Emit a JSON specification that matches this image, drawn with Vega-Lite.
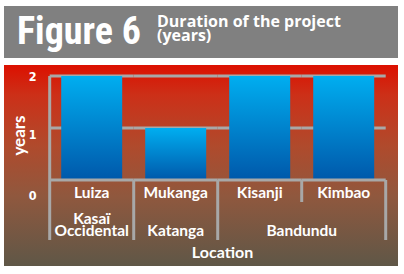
{
  "$schema": "https://vega.github.io/schema/vega-lite/v6.json",
  "padding": {"left": 4, "top": 6, "right": 6, "bottom": 8},
  "background": "white",
  "spacing": 7,
  "config": {"view": {"stroke": null}, "font": "Lato"},
  "vconcat": [
    {
      "width": 394,
      "height": 52,
      "view": {"fill": "#808080", "stroke": null},
      "layer": [
        {
          "data": {"values": [{"part": "Figure 6", "label": "Figure 6"}]},
          "mark": {"type": "text", "font": "Noto Sans ExtraCondensed, Noto Sans Condensed, Roboto Condensed, DejaVu Sans Condensed, sans-serif", "fontWeight": "bold", "fontSize": 38, "color": "white", "align": "left", "baseline": "middle", "dy": 1},
          "encoding": {
            "x": {"field": "part", "type": "nominal", "bandPosition": 0, "axis": null,
                  "scale": {"type": "band", "domain": ["Figure 6", "Duration"], "paddingInner": 0, "paddingOuter": 0.407, "align": 0.114}},
            "text": {"field": "label"}
          }
        },
        {
          "data": {"values": [{"part": "Duration", "label": "Duration of the project\n(years)"}]},
          "mark": {"type": "text", "font": "Open Sans", "fontWeight": "bold", "fontSize": 16, "lineHeight": 14, "lineBreak": "\n", "color": "white", "align": "left", "baseline": "middle", "dy": -10},
          "encoding": {
            "x": {"field": "part", "type": "nominal", "bandPosition": 0, "axis": null},
            "text": {"field": "label"}
          }
        }
      ]
    },
    {
      "width": 394,
      "height": 201,
      "view": {
        "stroke": null,
        "fill": {"gradient": "linear", "x1": 0, "y1": 0, "x2": 0, "y2": 1,
                 "stops": [
                   {"offset": 0, "color": "#dc1000"},
                   {"offset": 0.15, "color": "#cc3018"},
                   {"offset": 0.4, "color": "#b04a2c"},
                   {"offset": 0.65, "color": "#90583e"},
                   {"offset": 1, "color": "#5f5747"}
                 ]}
      },
      "resolve": {"axis": {"x": "independent", "y": "independent"}},
      "data": {"values": [
        {"location": "Luiza", "region": "Kasaï\nOccidental", "years": 2},
        {"location": "Mukanga", "region": "Katanga", "years": 1},
        {"location": "Kisanji", "region": "Bandundu", "years": 2},
        {"location": "Kimbao", "region": "Bandundu", "years": 2}
      ]},
      "layer": [
        {
          "mark": {"type": "rule", "color": "#a8a8a8", "strokeWidth": 3},
          "encoding": {
            "x": {"field": "location", "type": "nominal", "bandPosition": 0, "axis": null,
                  "sort": ["Luiza", "Mukanga", "Kisanji", "Kimbao"],
                  "scale": {"type": "band", "paddingInner": 0, "paddingOuter": 0.3452, "align": 0.788}},
            "x2": {"field": "location", "bandPosition": 1},
            "y": {"datum": 2, "type": "quantitative", "axis": null,
                  "scale": {"domain": [-1.6538, 2.2115], "nice": false, "zero": false}}
          }
        },
        {
          "mark": {"type": "rule", "color": "#a8a8a8", "strokeWidth": 3},
          "encoding": {
            "x": {"field": "location", "type": "nominal", "bandPosition": 0, "axis": null, "sort": ["Luiza", "Mukanga", "Kisanji", "Kimbao"]},
            "x2": {"field": "location", "bandPosition": 1},
            "y": {"datum": 1, "type": "quantitative", "axis": null}
          }
        },
        {
          "mark": {"type": "bar", "width": {"band": 0.726},
                   "color": {"gradient": "linear", "x1": 0, "y1": 0, "x2": 0, "y2": 1,
                             "stops": [{"offset": 0, "color": "#00aef0"}, {"offset": 1, "color": "#0058aa"}]}},
          "encoding": {
            "x": {"field": "location", "type": "nominal", "sort": ["Luiza", "Mukanga", "Kisanji", "Kimbao"],
                  "title": "Location",
                  "axis": {"orient": "bottom", "offset": -86, "domain": false, "ticks": false, "tickSize": 0, "grid": false, "zindex": 1,
                           "labelAngle": 0, "labelFont": "Lato", "labelFontWeight": "bold", "labelFontSize": 15.5,
                           "labelColor": "white", "labelBaseline": "alphabetic", "labelPadding": 17,
                           "titleFont": "Lato", "titleFontWeight": "bold", "titleFontSize": 16, "titleColor": "white",
                           "titleBaseline": "alphabetic", "titleX": 218, "titleY": 77}},
            "y": {"field": "years", "type": "quantitative", "title": "years",
                  "axis": {"offset": -46, "domain": false, "ticks": false, "tickSize": 0, "grid": false, "labels": false, "zindex": 1,
                           "titleFont": "Lato", "titleFontWeight": "bold", "titleFontSize": 17, "titleColor": "white",
                           "titleAngle": -90, "titleBaseline": "middle", "titleAlign": "center", "titleX": -31, "titleY": 70}},
            "y2": {"datum": 0}
          }
        },
        {
          "mark": {"type": "rule", "color": "#a8a8a8", "strokeWidth": 3},
          "encoding": {
            "x": {"field": "location", "type": "nominal", "bandPosition": 0, "axis": null, "sort": ["Luiza", "Mukanga", "Kisanji", "Kimbao"]},
            "x2": {"field": "location", "bandPosition": 1},
            "y": {"datum": 0, "type": "quantitative", "axis": null}
          }
        },
        {
          "transform": [{"filter": "datum.location == 'Luiza'"}],
          "mark": {"type": "rule", "color": "#a8a8a8", "strokeWidth": 3},
          "encoding": {
            "x": {"field": "location", "type": "nominal", "bandPosition": 0, "axis": null, "sort": ["Luiza", "Mukanga", "Kisanji", "Kimbao"]},
            "y": {"datum": 2, "type": "quantitative", "axis": null},
            "y2": {"datum": -1.154}
          }
        },
        {
          "transform": [{"filter": "datum.location == 'Mukanga' || datum.location == 'Kisanji'"}],
          "mark": {"type": "rule", "color": "#a8a8a8", "strokeWidth": 3},
          "encoding": {
            "x": {"field": "location", "type": "nominal", "bandPosition": 0, "axis": null, "sort": ["Luiza", "Mukanga", "Kisanji", "Kimbao"]},
            "y": {"datum": 0, "type": "quantitative", "axis": null},
            "y2": {"datum": -1.154}
          }
        },
        {
          "transform": [{"filter": "datum.location == 'Kimbao'"}],
          "mark": {"type": "rule", "color": "#a8a8a8", "strokeWidth": 3},
          "encoding": {
            "x": {"field": "location", "type": "nominal", "bandPosition": 0, "axis": null, "sort": ["Luiza", "Mukanga", "Kisanji", "Kimbao"]},
            "y": {"datum": 0, "type": "quantitative", "axis": null},
            "y2": {"datum": -0.423}
          }
        },
        {
          "transform": [{"filter": "datum.location == 'Kimbao'"}],
          "mark": {"type": "rule", "color": "#a8a8a8", "strokeWidth": 3},
          "encoding": {
            "x": {"field": "location", "type": "nominal", "bandPosition": 1, "axis": null, "sort": ["Luiza", "Mukanga", "Kisanji", "Kimbao"]},
            "y": {"datum": 0, "type": "quantitative", "axis": null},
            "y2": {"datum": -1.154}
          }
        },
        {
          "data": {"values": [{"tick": 0}, {"tick": 1}, {"tick": 2}]},
          "mark": {"type": "text", "font": "DejaVu Sans Condensed", "fontWeight": "bold", "fontSize": 12.5, "color": "white",
                   "align": "right", "baseline": "middle", "dx": -13,
                   "dy": {"expr": "datum.tick == 0 ? 15.5 : datum.tick == 1 ? 7.5 : 1"}},
          "encoding": {
            "x": {"datum": "Luiza", "type": "nominal", "bandPosition": 0, "axis": null},
            "y": {"field": "tick", "type": "quantitative", "axis": null},
            "text": {"field": "tick", "type": "quantitative"}
          }
        },
        {
          "transform": [{"filter": "datum.location == 'Luiza'"}],
          "mark": {"type": "text", "font": "Lato", "fontWeight": "bold", "fontSize": 15.5, "lineHeight": 12.5, "lineBreak": "\n", "color": "white", "baseline": "bottom", "dy": -12},
          "encoding": {
            "x": {"field": "location", "type": "nominal", "bandPosition": 0.5, "axis": null, "sort": ["Luiza", "Mukanga", "Kisanji", "Kimbao"]},
            "y": {"datum": -1.125, "type": "quantitative", "axis": null},
            "text": {"field": "region"}
          }
        },
        {
          "transform": [{"filter": "datum.location == 'Mukanga'"}],
          "mark": {"type": "text", "font": "Lato", "fontWeight": "bold", "fontSize": 15.5, "color": "white", "baseline": "bottom"},
          "encoding": {
            "x": {"field": "location", "type": "nominal", "bandPosition": 0.5, "axis": null, "sort": ["Luiza", "Mukanga", "Kisanji", "Kimbao"]},
            "y": {"datum": -1.125, "type": "quantitative", "axis": null},
            "text": {"field": "region"}
          }
        },
        {
          "transform": [{"filter": "datum.location == 'Kisanji'"}],
          "mark": {"type": "text", "font": "Lato", "fontWeight": "bold", "fontSize": 15.5, "color": "white", "baseline": "bottom"},
          "encoding": {
            "x": {"field": "location", "type": "nominal", "bandPosition": 1, "axis": null, "sort": ["Luiza", "Mukanga", "Kisanji", "Kimbao"]},
            "y": {"datum": -1.125, "type": "quantitative", "axis": null},
            "text": {"field": "region"}
          }
        }
      ]
    }
  ]
}
